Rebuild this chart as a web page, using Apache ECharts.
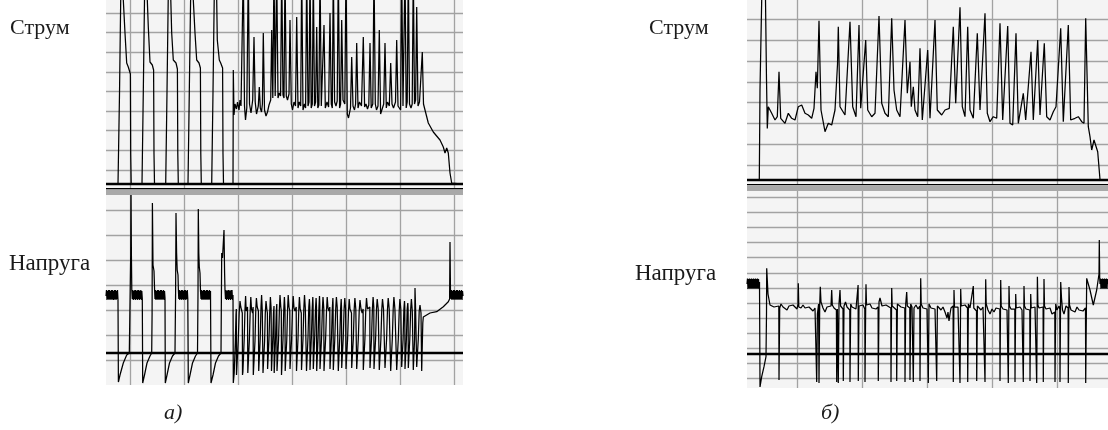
<!DOCTYPE html>
<html><head><meta charset="utf-8">
<script src="https://cdn.jsdelivr.net/npm/echarts@6/dist/echarts.min.js"></script>
<style>html,body{margin:0;padding:0;background:#fff}#c{width:1108px;height:430px}</style>
</head><body><div id="c"></div>
<script>
// ---- Panel a) : current (Струм), x in time units, y in units above zero line
const currentA = [[0,0],[12,0],[13.5,90],[14.7,184],[15.5,215],[16.5,215],[17.3,184],[19,151],[20.7,121],[22.3,117],[23.3,116],[24.4,110],[24.7,30],[25.2,0],
[36,0],[37.3,92],[38.5,184],[39.3,215],[40.5,215],[41.3,184],[42.3,157],[44,122],[46.3,119],[47.6,114],[48,30],[48.5,0],
[59.7,0],[61,92],[62.2,184],[63,215],[64,215],[64.8,184],[65.7,151],[67.3,124],[70,121],[71.4,115],[71.8,30],[72.3,0],
[82,0],[83.3,92],[84.6,184],[85.4,215],[86.5,215],[87.3,184],[89,151],[90.7,124],[93,121],[94.4,116],[94.8,30],[95.3,0],
[105.7,0],[107,92],[108.2,184],[109,215],[110,215],[110.7,184],[111.3,144],[113.3,124],[114.7,121],[116.6,116],[117,30],[117.5,0],
[127,0],[127.3,114],[128,69],[129,80],[130.5,75],[131.5,82],[133,74],[134,84],[135,78],[136.3,80],
[137.3,215],[138.5,78],[139.5,64],[140.8,76],[142.3,215],[143.5,80],[145,71],[146.7,84],
[148,147],[149.2,82],[150.5,70],[152.3,78],[153.3,97],[154.3,76],[155.5,72],[156.4,80],
[157.3,151],[158.5,74],[160,68],[161.5,72],[163,79],[164.7,84],[165.7,154],[166.8,86],
[168,215],[169.2,88],[170.7,215],[172,86],[173.3,91],[174.6,88],[175.7,215],[177,89],[178,86],
[179,215],[180.3,88],[181.5,84],[183,90],[184,164],[185.3,80],[186.5,74],[188,82],[189.5,78],
[190.7,167],[192,76],[193.3,82],[194.7,78],[195.7,215],[197,74],[198.5,80],[199.6,76],
[200.7,215],[202,78],[203,82],[204,215],[205.2,76],[206.3,80],[207.3,215],[208.5,78],[209.6,82],
[210.7,157],[211.8,76],[212.9,79],[214,215],[215.3,78],[216.8,80],[218,159],[219.3,76],[221,82],[222.6,77],
[224,171],[225.3,80],[226.3,76],[227.3,215],[228.6,82],[230,78],[231.2,83],[232.3,215],[233.6,76],[234.6,80],
[235.7,164],[237,84],[238.8,80],[240,215],[241.3,70],[242.5,66],[244.5,76],
[245.7,127],[247,78],[248.5,74],[249.6,80],[250.7,141],[252,76],[253.5,82],[255.5,78],[256.3,80],
[257.3,147],[258.6,77],[260,80],[261.5,75],[262.8,79],[264,141],[265.2,76],[266.8,80],
[268,215],[269.3,80],[270.5,74],[272,78],[273.3,154],[274.6,70],[276,72],[277.7,80],
[279,141],[280.3,76],[281.5,82],[283.3,78],[284.7,121],[286,80],[287.5,76],[289.5,82],
[290.7,144],[292,78],[293.5,80],[294.6,74],[295.7,215],[297,78],[298,80],[299,215],[300.2,76],[301.2,82],
[302.3,215],[303.5,80],[305,76],[306.2,80],[307.3,215],[308.5,80],[309.6,84],
[310.7,177],[312,78],[313.5,82],[315.2,80],[316.3,132],[317.5,80],
[319,74],[322.3,61],[327.3,52],[334,44],[337.3,37],[339,31],[340.7,36],[342.3,31],[344,11],[345.7,1],[346.2,0],[357,0]];

// ---- Panel a) : voltage (Напруга)
const voltageB = [[0,57],[0.5,63],[1,53],[1.5,62],[2,54],[2.5,63],[3,53],[3.5,63],[4,54],[4.5,62],[5,53],[5.5,63],[6,54],[6.5,63],[7,53],[7.5,62],[8,53],[8.5,63],[9,54],[9.5,63],[10,53],[10.5,62],[11,54],[11.5,63],[12,53],
[12.4,-29],[14,-22],[17.3,-10],[20.7,-2],[23.3,0],[24.4,2],[24.7,98],[25,165],[25.4,98],[25.8,63],
[26.3,54],[26.8,63],[27.3,53],[27.8,62],[28.3,54],[28.8,63],[29.3,53],[29.8,63],[30.3,54],[30.8,62],[31.3,53],[31.8,63],[32.3,54],[32.8,63],[33.3,53],[33.8,62],[34.3,54],[34.8,63],[35.3,53],[35.8,62],[36.3,54],
[36.7,-30],[38.5,-22],[41,-10],[44,-3],[45.7,0],[46.1,40],[46.4,150],[47,88],[48,82],[48.6,63],
[49,54],[49.5,63],[50,53],[50.5,62],[51,54],[51.5,63],[52,53],[52.5,63],[53,54],[53.5,62],[54,53],[54.5,63],[55,54],[55.5,63],[56,53],[56.5,62],[57,54],[57.5,63],[58,53],[58.5,62],[59,55],
[59.3,-30],[61,-22],[63.5,-10],[66.5,-3],[69,0],[69.6,60],[70,140],[70.6,100],[71.2,83],[72,78],[72.4,63],
[72.8,54],[73.3,63],[73.8,53],[74.3,62],[74.8,54],[75.3,63],[75.8,53],[76.3,63],[76.8,54],[77.3,62],[77.8,53],[78.3,63],[78.8,54],[79.3,63],[79.8,53],[80.3,62],[80.8,54],[81.3,63],[81.8,54],
[82.3,-30],[84,-22],[86.5,-10],[89.5,-3],[91.5,0],[92,60],[92.3,144],[92.8,100],[93.3,86],[94,80],[94.5,62],
[95,54],[95.5,63],[96,53],[96.5,62],[97,54],[97.5,63],[98,53],[98.5,63],[99,54],[99.5,62],[100,53],[100.5,63],[101,54],[101.5,63],[102,53],[102.5,62],[103,54],[103.5,63],[104,53],[104.5,62],
[105,-30],[107,-22],[109.5,-10],[112.5,-3],[115,0],[115.7,100],[116.5,95],[118,123],[118.6,80],[119,63],
[119.5,54],[120,63],[120.5,53],[121,62],[121.5,54],[122,63],[122.5,53],[123,63],[123.5,54],[124,62],[124.5,53],[125,63],[125.5,54],[126,63],[126.5,53],[127,58],
[127.3,-30],[128.2,-20],[129.3,10],[130,38],[130.3,44],
[130.5,-22],[130.9,-20],[132.2,12],[133.2,40],[134,52],[134.8,46],[135.8,48],[136.3,40],
[136.5,-22],[136.9,-19],[138.2,14],[139,44],[139.6,57],[140.2,42],[141.5,46],
[141.8,-20],[142.2,-18],[143.4,14],[144.2,42],[144.8,56],[145.5,44],[146.6,40],[147.1,46],
[147.3,-22],[147.7,-20],[149,12],[149.8,44],[150.4,55],[151.2,46],[152.4,42],
[152.7,-18],[153.1,-16],[154.2,14],[155,46],[155.6,58],[156.3,42],[156.8,44],
[157,-20],[157.4,-18],[158.6,12],[159.3,40],[160,52],[160.8,44],[161.4,40],
[161.6,-16],[162,-14],[163,14],[163.8,42],[164.4,56],[165.1,45],
[165.5,-18],[165.9,-16],[166.9,18],[167.5,40],[168,47],
[168.2,-20],[168.6,-18],[169.6,16],[170.3,42],[170.8,49],
[171,-18],[171.4,-16],[172.6,14],[173.4,44],[174,58],[174.8,46],[175.3,42],
[175.5,-22],[175.9,-20],[177,14],[177.8,44],[178.4,56],[179,44],
[179.2,-18],[179.6,-16],[180.8,14],[181.6,44],[182.2,58],[183,46],[183.8,42],
[184,-16],[184.4,-14],[185.6,14],[186.5,44],[187.2,57],[188,45],[189,42],[190.2,46],
[190.5,-18],[190.9,-16],[192,14],[192.8,44],[193.4,56],[194.2,44],[195.3,40],
[195.5,-17],[195.9,-15],[197,14],[197.8,44],[198.5,58],[199.3,45],[200.3,44],
[200.5,-18],[200.9,-16],[202,16],[202.8,46],[203.4,54],[203.8,46],
[204,-17],[204.4,-15],[205.4,16],[206.2,44],[206.8,56],[207.1,48],
[207.3,-16],[207.7,-14],[208.7,16],[209.5,44],[210.1,55],[210.5,46],
[210.7,-18],[211.1,-16],[212.1,16],[212.9,44],[213.5,57],[213.8,48],
[214,-16],[214.4,-14],[215.5,14],[216.4,44],[217,56],[217.8,44],
[218,-18],[218.4,-16],[219.6,14],[220.5,42],[221.2,56],[222,45],[223,42],[223.8,46],
[224,-16],[224.4,-14],[225.5,16],[226.3,44],[226.9,55],[227.1,48],
[227.3,-17],[227.7,-15],[228.8,14],[229.7,44],[230.4,56],[231.2,46],[232.1,44],
[232.3,-18],[232.7,-16],[233.8,16],[234.6,44],[235.2,54],[235.5,46],
[235.7,-15],[236.1,-13],[237.2,14],[238.1,44],[238.8,55],[239.6,44],
[240,-16],[240.4,-14],[241.6,14],[242.5,42],[243.2,54],[244,44],[245.5,40],
[245.7,-15],[246.1,-13],[247.3,14],[248.2,44],[248.9,55],[249.8,44],[250.5,42],
[250.7,-16],[251.1,-14],[252.3,14],[253.2,42],[254,53],[255,44],[256.2,40],[257.1,44],
[257.3,-17],[257.7,-15],[258.9,14],[259.8,44],[260.5,55],[261.5,44],[262.8,42],[263.8,46],
[264,-15],[264.4,-13],[265.5,14],[266.4,44],[267.1,56],[267.8,46],
[268,-16],[268.4,-14],[269.6,14],[270.5,44],[271.2,54],[272.2,44],[273.1,46],
[273.3,-17],[273.7,-15],[274.9,14],[275.8,44],[276.5,54],[277.5,44],[278.8,42],
[279,-15],[279.4,-13],[280.6,14],[281.5,44],[282.2,55],[283.2,44],[284.5,42],
[284.7,-18],[285.1,-16],[286.3,14],[287.2,44],[287.9,56],[288.9,44],[290.5,42],
[290.7,-17],[291.1,-15],[292.3,14],[293.2,42],[293.9,54],[294.8,44],[295.5,42],
[295.7,-14],[296.1,-12],[297.1,14],[297.9,44],[298.5,52],[298.8,46],
[299,-16],[299.4,-14],[300.4,14],[301.2,44],[301.8,50],[302.1,44],
[302.3,-15],[302.7,-13],[303.8,14],[304.7,44],[305.4,54],[306.3,42],[307.1,44],
[307.3,-17],[307.7,-15],[308.6,14],[309,65],[309.6,44],[310.5,42],
[310.7,-14],[311.1,-12],[312.3,14],[313.2,42],[314,48],[315,40],[315.5,42],
[315.7,-18],[316.3,-18],[316.8,30],[317.3,36],[324,40],[330.7,41.3],[337.3,46.3],[342.3,51.3],[343.6,54],[344,111],[344.5,60],
[345,54],[345.5,63],[346,53],[346.5,62],[347,54],[347.5,63],[348,53],[348.5,63],[349,54],[349.5,62],[350,53],[350.5,63],[351,54],[351.5,63],[352,53],[352.5,62],[353,54],[353.5,63],[354,53],[354.5,62],[355,54],[355.5,63],[356,53],[356.5,62],[357,57]];

// ---- Panel б) : current
const currentC = [[0,0],[12.3,0],[13,90],[14.7,179.5],[15.5,200],[17.5,200],[18.5,179.5],[19.5,100],[20.3,51],
[21.3,72.8],[24.7,66.2],[28,59.5],[30.3,62.8],[32,107.8],[33.7,61.2],[38,56.2],[41.3,66.2],[44.7,61.2],[48,59.5],[51.3,72.8],[54.7,74.5],[58,66.2],[61.3,64.5],[64.7,61.2],[67,71.2],[69,107.8],[70.3,91.2],[72,158.8],[74,69.5],[78,47.8],[81.3,56.2],[84.7,54.5],[88,69.5],[90.5,115],[91.3,152.8],[93,72.8],[98,64.5],[103,157.8],[105.7,72.8],[109,62.8],[112,154.5],[113.7,71.2],[118.7,139.5],[120.7,69.5],[124.7,62.8],[128,66.2],[132,163.5],[134.7,76.2],[138,66.2],[141.3,62.8],[144.7,161.2],[147,89.5],[149.7,69.5],[153,62.8],[158,159.5],[160.3,86.2],[163,117.8],[164.3,72.8],[166.3,92.8],[168,69.5],[170.7,62.8],[173,131.2],[175.3,59.5],[180.7,129.5],[183,61.2],[188,159.5],[190.3,69.5],[194.7,64.5],[198,69.5],[202.3,71.2],[206.3,152.8],[208.7,76.2],[213,172.2],[215.3,72.8],[218,62.8],[220.7,152.8],[223,69.5],[226.3,61.2],[230.3,146.2],[233,69.5],[238,166.2],[240.3,66.2],[243,57.8],[246.3,62.8],[249.7,61.2],[253,156.2],[255.7,59.5],[260.7,153.5],[263,56.2],[265.7,54.5],[269,146.2],[271.3,56.2],[276.3,86.2],[278.7,59.5],[284,127.8],[286.3,59.5],[290.7,139.5],[293,64.5],[297.3,136.2],[299.7,62.8],[303,59.5],[306.3,67.8],[309,72.8],[313.7,151.2],[316.3,57.8],[321.3,154.5],[323.7,59.5],[328,61.2],[331.3,62.8],[334.7,57.8],[337,56.2],[338.7,161.2],[341.3,52.8],[343,42.8],[344.7,29.5],[347,39.5],[348.7,41.2],[350.7,27.8],[353,0],[361,0]];

// ---- Panel б) : voltage
const voltageD = [[0,70],[0.5,75.5],[1,65],[1.5,75],[2,66],[2.5,75.5],[3,65],[3.5,75],[4,66],[4.5,75.5],[5,65],[5.5,75],[6,66],[6.5,75.5],[7,65],[7.5,75],[8,66],[8.5,75.5],[9,65],[9.5,75],[10,66],[10.5,75.5],[11,65],[11.5,75],[12,66],[12.5,72],
[13,-33],[14.7,-22.7],[17,-12.7],[19,-2.7],[19.5,40],[19.7,85.7],[21,60],[23,49],[25,50],[27,47],[29,49],[31.8,48],
[32,-26],[32.4,-26],[32.7,46],[34,50],[36,47],[38,49],[40,44],[42,48],[44,46],[46,49],[48,47],[50,45],[51,50],[51.3,70.7],[51.8,47],[54,46],[56,49],[58,46],[60,44],[62,47],[64,45],[66,43],[68,46],[69.5,48],
[69.7,-28],[70.1,-28],[70.4,40],[71.6,50],[72,-29],[72.4,-29],[72.7,48],[73.3,67.3],[74,52],[76,46],[78,42],[80,47],[82,45],[84,48],[84.7,64],[85.3,49],[87,46],[89.4,44],
[89.7,-28],[90.1,-28],[90.4,45],[91.1,45],[91.3,-29],[91.7,-29],[92,50],[93,64],[93.6,48],[95,46],[96,45],
[96.3,-27],[96.7,-27],[97,48],[98.5,52],[100,47],[102,45],[102.8,44],[103,-28],[103.4,-28],[103.7,50],[105,47],[107,49],[109,45],[111.1,69],
[111.3,-27],[111.7,-27],[112,48],[114,46],[116,49],[117.8,45],[118,-28],[118.4,-28],[118.7,50],[119,69.7],[119.5,49],[121,47],[123,50],[125,46],[127,48],[129,45],[131.1,47],
[131.3,-27],[131.7,-27],[132,52],[133,56],[135,48],[137,46],[139,49],[141,47],[143.8,46],[144,-28],[144.4,-28],[144.7,66],[145.2,48],[147,46],[149.5,44],
[149.7,-27],[150.1,-27],[150.4,50],[152,48],[154,47],[156,49],[157.8,46],[158,-28],[158.4,-28],[158.7,50],[159.7,62],[160.3,48],[162.8,46],
[163,-26],[163.4,-26],[163.7,50],[165,47],[166.1,48],[166.3,-28],[166.7,-28],[167,46],[169,49],[171,45],[172.8,48],
[173,-27],[173.4,-27],[173.7,75.7],[174.2,50],[176,46],[178,48],[180,45],[181.1,46],[181.3,-29],[181.7,-29],[182,50],[184,46],[186,48],[188,45],[189.5,47],
[189.7,-27],[190.1,-27],[190.4,48],[192,46],[194,44],[196,47],[198,42],[200,36],[201,42],[202,33],[203,40],[204,46],[206.1,48],
[206.3,-28],[206.7,-28],[207,64],[207.5,47],[209,45],[211,47],[212.8,46],[213,-29],[213.4,-29],[213.7,65],[214.2,48],[216,46],[218,49],[220.5,46],
[220.7,-28],[221.1,-28],[221.4,50],[223,46],[225,47],[226.3,68],[226.8,46],[228,45],[229.5,43],[229.7,-27],[230.1,-27],[230.4,48],[232,46],[234,44],[236,47],[237.8,46],
[238,-28],[238.4,-28],[238.7,74.7],[239.2,50],[241,44],[243,40],[245,45],[247,42],[249,46],[251,44],[252.8,45],
[253,-27],[253.4,-27],[253.7,74],[254.2,48],[256,45],[258,47],[260,44],[261.1,46],[261.3,-29],[261.7,-29],[262,68],[262.5,48],[264,45],[266,47],[267.8,45],
[268,-28],[268.4,-28],[268.7,60],[269.2,46],[271,44],[273,47],[275,44],[276.1,45],[276.3,-28],[276.7,-28],[277,68],[277.5,48],[279,45],[281,46],[282.8,44],
[283,-27],[283.4,-27],[283.7,60],[284.2,46],[286,45],[288,47],[289.5,46],[289.7,-29],[290.1,-29],[290.4,77.3],[290.9,49],[292,46],[294,44],[296.1,47],
[296.3,-28],[296.7,-28],[297,75],[297.5,48],[299,45],[301,43],[303,46],[305,40],[307,38],[307.8,42],[308,-28],[308.4,-28],[308.7,50],[310,44],[312,48],[312.8,45],
[313,-28],[313.4,-28],[313.7,72],[314.5,56],[315.5,44],[317,40],[319,48],[321.1,46],[321.3,-29],[321.7,-29],[322,67],[322.5,49],[324,44],[326,46],[328,42],[330,47],[332,44],[334,46],[336,43],[338.5,46],
[338.7,-29],[339.1,-29],[339.7,75.7],[343,64],[346.3,49],[349.7,64],[352,80],[352.3,114],[352.7,76],[353,70],
[353.5,75.5],[354,65],[354.5,75],[355,66],[355.5,75.5],[356,65],[356.5,75],[357,66],[357.5,75.5],[358,65],[358.5,75],[359,66],[359.5,75.5],[360,65],[360.5,75],[361,70]];

// ---- grid line positions (axis units)
const gridA_h = [14, 33.65, 53.3, 72.95, 92.6, 112.25, 131.9, 151.55, 171.2];
const gridA_v = [24.7, 78.6, 132.5, 186.4, 240.3, 294.2, 348.1];
const gridB_h = [142.3, 117.3, 92.3, 67.3, 42.3, 17.3, -7.7];
const gridB_v = [24.7, 78.6, 132.5, 186.4, 240.3, 294.2, 348.1];
const gridC_h = [14.5, 35.3, 56.1, 76.9, 97.7, 118.5, 139.3, 160.1];
const gridC_v = [50.7, 115.7, 180.7, 245.7, 310.5];
const gridD_h = [-24.5, -9.4, 5.7, 20.8, 35.9, 51, 66.1, 81.2, 96.3, 111.4, 126.5, 141.6, 156.7];
const gridD_v = [50.7, 115.7, 180.7, 245.7, 310.5];

// labels
const labelCurrent = 'Струм';
const labelVoltage = 'Напруга';
const captions = ['а)', 'б)'];

const chart = echarts.init(document.getElementById('c'), null, {renderer: 'canvas'});
const BG = '#f4f4f4';
function trace(i, data, hl, vl) {
  return {
    type: 'line', xAxisIndex: i, yAxisIndex: i, data: data,
    showSymbol: false, symbol: 'none', silent: true, z: 3,
    lineStyle: {color: '#000', width: 1.25},
    markLine: {
      silent: true, symbol: ['none', 'none'], z: 1, animation: false,
      label: {show: false}, emphasis: {disabled: true},
      lineStyle: {color: '#a2a2a2', width: 1.3, type: 'solid'},
      data: [].concat(hl.map(v => ({yAxis: v})), vl.map(v => ({xAxis: v})),
        [{yAxis: 0, lineStyle: {color: '#000', width: 2.4, type: 'solid'}}])
    }
  };
}
const serifFont = '"Liberation Serif", "Times New Roman", serif';
chart.setOption({
  animation: false,
  backgroundColor: '#fff',
  grid: [
    {left: 106, top: 0, width: 357, height: 189, show: true, backgroundColor: BG, borderWidth: 0},
    {left: 106, top: 195, width: 357, height: 190, show: true, backgroundColor: BG, borderWidth: 0},
    {left: 747, top: 0, width: 361, height: 185, show: true, backgroundColor: BG, borderWidth: 0},
    {left: 747, top: 191, width: 361, height: 197, show: true, backgroundColor: BG, borderWidth: 0}
  ],
  xAxis: [
    {gridIndex: 0, type: 'value', min: 0, max: 357, show: false},
    {gridIndex: 1, type: 'value', min: 0, max: 357, show: false},
    {gridIndex: 2, type: 'value', min: 0, max: 361, show: false},
    {gridIndex: 3, type: 'value', min: 0, max: 361, show: false}
  ],
  yAxis: [
    {gridIndex: 0, type: 'value', min: -5, max: 184, show: false},
    {gridIndex: 1, type: 'value', min: -32, max: 158, show: false},
    {gridIndex: 2, type: 'value', min: -5.5, max: 179.5, show: false},
    {gridIndex: 3, type: 'value', min: -34, max: 163, show: false}
  ],
  series: [
    trace(0, currentA, gridA_h, gridA_v),
    trace(1, voltageB, gridB_h, gridB_v),
    trace(2, currentC, gridC_h, gridC_v),
    trace(3, voltageD, gridD_h, gridD_v)
  ],
  graphic: [
    {type: 'rect', z: 10, shape: {x: 106, y: 188, width: 357, height: 1.4}, style: {fill: '#000'}},
    {type: 'rect', z: 10, shape: {x: 106, y: 189.4, width: 357, height: 5.6}, style: {fill: '#a9a9a9'}},
    {type: 'rect', z: 10, shape: {x: 747, y: 184, width: 361, height: 1.2}, style: {fill: '#000'}},
    {type: 'rect', z: 10, shape: {x: 747, y: 185.2, width: 361, height: 5.8}, style: {fill: '#a9a9a9'}},
    {type: 'text', z: 10, left: 10, top: 17, style: {text: labelCurrent, font: '22px ' + serifFont, fill: '#1a1a1a'}},
    {type: 'text', z: 10, left: 9, top: 252, style: {text: labelVoltage, font: '23px ' + serifFont, fill: '#1a1a1a'}},
    {type: 'text', z: 10, left: 649, top: 17, style: {text: labelCurrent, font: '22px ' + serifFont, fill: '#1a1a1a'}},
    {type: 'text', z: 10, left: 635, top: 262, style: {text: labelVoltage, font: '23px ' + serifFont, fill: '#1a1a1a'}},
    {type: 'text', z: 10, left: 164, top: 402, style: {text: captions[0], font: 'italic 22px ' + serifFont, fill: '#1a1a1a'}},
    {type: 'text', z: 10, left: 821, top: 402, style: {text: captions[1], font: 'italic 22px ' + serifFont, fill: '#1a1a1a'}}
  ]
});
</script>
</body></html>
